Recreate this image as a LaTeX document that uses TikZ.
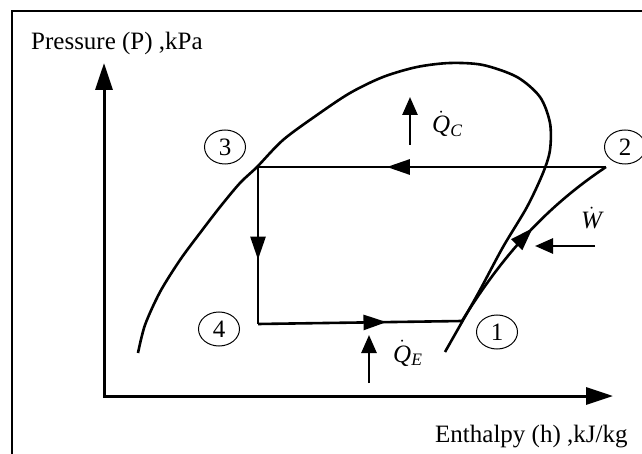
\documentclass[tikz,border=0pt]{standalone}
\usepackage{fontspec}
\setmainfont{Liberation Serif}
\usetikzlibrary{arrows.meta,shapes.geometric,decorations.markings}
\begin{document}
\begin{tikzpicture}[x=1pt,y=-1pt,
  every node/.style={font=\fontsize{25}{30}\selectfont, inner sep=0pt},
  axis/.style={line width=3pt, {Triangle[length=27pt,width=17pt]}-{Triangle[length=27pt,width=17pt]}},
  cyc/.style={line width=2.6pt},
  dome/.style={line width=2.6pt},
  midarrow/.style={postaction={decorate}, decoration={markings, mark=at position #1 with {\arrow{Triangle[length=23pt,width=15pt]}}}},
  heat/.style={line width=2.6pt, -{Triangle[length=18pt,width=15pt]}},
  state/.style={draw, ellipse, line width=1pt, minimum width=41pt, minimum height=34pt, inner sep=0pt},
  lbl/.style={anchor=base west}]
\useasboundingbox (0,0) rectangle (642,454);
\draw[line width=2pt] (12,11) rectangle (646,458);
% axes
\coordinate (ytip) at (104,63);
\coordinate (O) at (104,396);
\coordinate (xtip) at (613,396);
\draw[axis] (ytip) -- (O) -- (xtip);
\node[lbl] (plabel) at (31,50) {Pressure (P) ,kPa};
\node[lbl] (hlabel) at (435,442) {Enthalpy (h) ,kJ/kg};
% saturation dome
\draw[dome] plot[smooth, tension=0.5] coordinates {(138,353) (145,325) (160,292) (180,260) (200,233) (220,207) (240,183) (257,167) (283,140) (317,115) (350,93) (383,77) (417,67) (450,63) (483,65) (517,77) (540,97) (550,123) (550,150) (543,173) (527,207) (503,247) (480,290) (462,322) (445,352)};
% cycle points
\coordinate (p1) at (462,321);
\coordinate (p2) at (606,167);
\coordinate (p3) at (258,167);
\coordinate (p4) at (258,324);
\draw[cyc, midarrow=0.63] (p2) -- (p3);
\draw[cyc, midarrow=0.59] (p3) -- (p4);
\draw[cyc, midarrow=0.63] (p4) -- (p1);
\draw[cyc, midarrow=0.55] (p1) .. controls (502,256) and (546,207) .. (p2);
% state labels
\node[state] (s1) at (497,332) {1};
\node[state] (s2) at (625,147) {2};
\node[state] (s3) at (225,147) {3};
\node[state] (s4) at (219,329) {4};
% heat and work
\coordinate (qca) at (410,145);
\coordinate (qcb) at (410,97);
\draw[heat] (qca) -- (qcb);
\node[lbl] (qc) at (432,133) {$\dot{\mathit{Q}}_{\mathit{C}}$};
\coordinate (qea) at (369,383);
\coordinate (qeb) at (369,335);
\draw[heat] (qea) -- (qeb);
\node[lbl] (qe) at (393,362) {$\dot{\mathit{Q}}_{\mathit{E}}$};
\coordinate (wa) at (595,246);
\coordinate (wb) at (535,246);
\draw[heat] (wa) -- (wb);
\node[lbl] (w) at (581,229) {$\dot{\mathit{W}}$};
\end{tikzpicture}
\end{document}
